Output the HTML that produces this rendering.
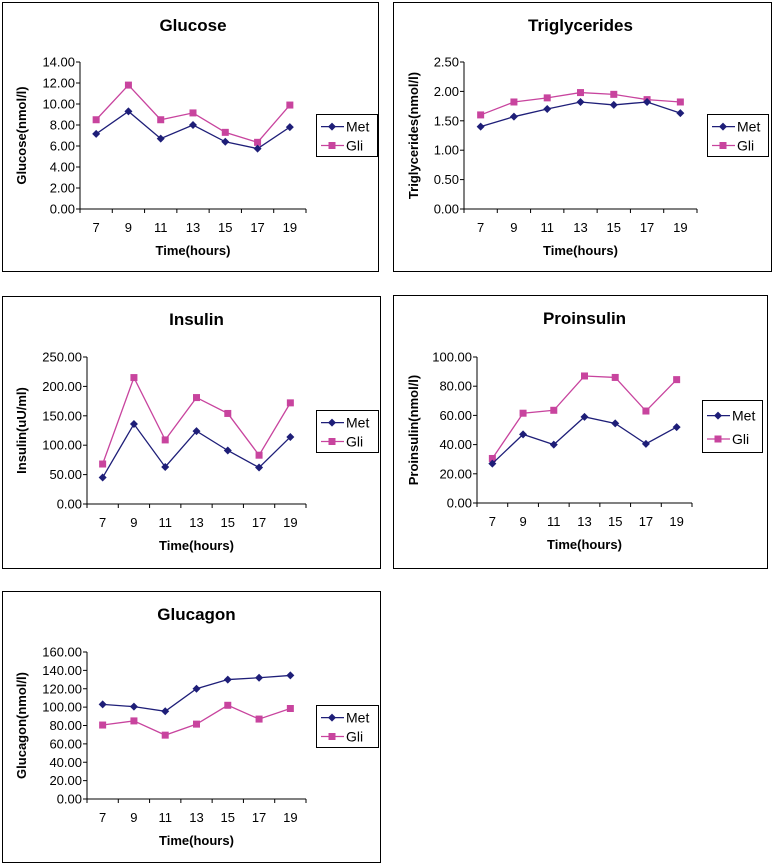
<!DOCTYPE html>
<html><head><meta charset="utf-8"><style>
body{margin:0;background:#fff;width:774px;height:865px;overflow:hidden}
svg{position:absolute;left:0;top:0}
text{font-family:"Liberation Sans",Arial,sans-serif;fill:#000}
</style></head><body>
<svg id="s" width="774" height="865"></svg>
<script>
const categories=[7,9,11,13,15,17,19];
const glucoseMet=[7.15,9.3,6.7,8.0,6.4,5.75,7.8];
const glucoseGli=[8.5,11.8,8.5,9.15,7.3,6.35,9.9];
const trigMet=[1.40,1.57,1.70,1.82,1.77,1.82,1.63];
const trigGli=[1.60,1.82,1.89,1.98,1.95,1.86,1.82];
const insulinMet=[45,136,63,124,91,62,114];
const insulinGli=[68,215,109,181,154,83,172];
const proinsMet=[27,47,40,59,54.5,40.5,52];
const proinsGli=[30.5,61.5,63.5,87,86,63,84.5];
const glucagonMet=[103,100.5,95.5,120,130,132,134.5];
const glucagonGli=[80.5,85,69.5,81.5,102,87,98.5];
const glucoseTicks=[0,2,4,6,8,10,12,14];
const trigTicks=[0,0.5,1,1.5,2,2.5];
const insulinTicks=[0,50,100,150,200,250];
const proinsTicks=[0,20,40,60,80,100];
const glucagonTicks=[0,20,40,60,80,100,120,140,160];
const charts=[
 {name:'glucose',title:'Glucose',ylab:'Glucose(nmol/l)',met:glucoseMet,gli:glucoseGli,ticks:glucoseTicks,box:[2,2,376,269],ax:80,top:62,bot:209,right:306,leg:[316,114,61,42],yt:26},
 {name:'triglycerides',title:'Triglycerides',ylab:'Triglycerides(nmol/l)',met:trigMet,gli:trigGli,ticks:trigTicks,box:[393,2,378,269],ax:464,top:62,bot:209,right:697,leg:[707,114,61,42],yt:418},
 {name:'insulin',title:'Insulin',ylab:'Insulin(uU/ml)',met:insulinMet,gli:insulinGli,ticks:insulinTicks,box:[2,296,378,272],ax:87,top:357,bot:504,right:306,leg:[316,410,62,42],yt:26},
 {name:'proinsulin',title:'Proinsulin',ylab:'Proinsulin(nmol/l)',met:proinsMet,gli:proinsGli,ticks:proinsTicks,box:[393,295,374,273],ax:477,top:357,bot:503,right:692,leg:[702,400,60,52],yt:418},
 {name:'glucagon',title:'Glucagon',ylab:'Glucagon(nmol/l)',met:glucagonMet,gli:glucagonGli,ticks:glucagonTicks,box:[2,591,378,271],ax:87,top:652,bot:799,right:306,leg:[316,705,62,42],yt:26}
];
const NS='http://www.w3.org/2000/svg';
const svg=document.getElementById('s');
function mk(tag,attrs,parent,txt){const e=document.createElementNS(NS,tag);for(const k in attrs)e.setAttribute(k,attrs[k]);if(txt!==undefined)e.textContent=txt;parent.appendChild(e);return e;}
const MET='#1e1e78',GLI='#c8449e';
function marker(g,kind,x,y,col){
 if(kind==='d'){const p=mk('polygon',{points:`${x},${y-4} ${x+4},${y} ${x},${y+4} ${x-4},${y}`,fill:col},g);}
 else{const r=mk('rect',{x:x-3.5,y:y-3.5,width:7,height:7,fill:col},g);}
}
charts.forEach(c=>{
 const g=mk('g',{},svg);
 
 
 const b=c.box;
 mk('rect',{x:b[0]+.5,y:b[1]+.5,width:b[2],height:b[3],fill:'#fff',stroke:'#000','stroke-width':1},g);
 const t=mk('text',{x:(c.ax+c.right)/2,y:b[1]+29,'font-size':17,'font-weight':'bold','text-anchor':'middle'},g,c.title);
 
 const maxV=c.ticks[c.ticks.length-1];
 const ys=v=>c.bot-(v/maxV)*(c.bot-c.top);
 const step=(c.right-c.ax)/categories.length;
 const xs=i=>c.ax+step*(i+0.5);
 mk('line',{x1:c.ax,y1:c.top,x2:c.ax,y2:c.bot,stroke:'#000'},g);
 mk('line',{x1:c.ax,y1:c.bot,x2:c.right,y2:c.bot,stroke:'#000'},g);
 c.ticks.forEach(v=>{
  const y=ys(v);
  mk('line',{x1:c.ax-4,y1:y,x2:c.ax,y2:y,stroke:'#000'},g);
  const tl=mk('text',{x:c.ax-5,y:y+4.5,'font-size':13,'text-anchor':'end'},g,v.toFixed(2));
  
 });
 for(let i=0;i<=categories.length;i++){const x=c.ax+step*i;mk('line',{x1:x,y1:c.bot,x2:x,y2:c.bot+4,stroke:'#000'},g);}
 categories.forEach((v,i)=>{
  const tl=mk('text',{x:xs(i),y:c.bot+23,'font-size':13,'text-anchor':'middle'},g,v);
  
 });
 const xt=mk('text',{x:(c.ax+c.right)/2,y:c.bot+46,'font-size':13,'font-weight':'bold','text-anchor':'middle'},g,'Time(hours)');
 
 const ym=(c.top+c.bot)/2;
 const yt=mk('text',{x:0,y:0,'font-size':13,'font-weight':'bold','text-anchor':'middle',transform:`translate(${c.yt},${ym}) rotate(-90)`},g,c.ylab);
 
 [[c.gli,GLI,'s','gli'],[c.met,MET,'d','met']].forEach(([d,col,k,n])=>{
  const pl=mk('polyline',{points:d.map((v,i)=>xs(i)+','+ys(v)).join(' '),fill:'none',stroke:col,'stroke-width':1.3},g);
  
  d.forEach((v,i)=>marker(g,k,xs(i),ys(v),col));
 });
 const L=c.leg;
 const lg=mk('g',{},g);
 
 mk('rect',{x:L[0]+.5,y:L[1]+.5,width:L[2],height:L[3],fill:'#fff',stroke:'#000'},lg);
 const y1=L[1]+L[3]*0.3,y2=L[1]+L[3]*0.75;
 mk('line',{x1:L[0]+5,y1:y1,x2:L[0]+28,y2:y1,stroke:MET,'stroke-width':1.3},lg);
 marker(lg,'d',L[0]+16,y1,MET);
 mk('text',{x:L[0]+30,y:y1+5,'font-size':14},lg,'Met');
 mk('line',{x1:L[0]+5,y1:y2,x2:L[0]+28,y2:y2,stroke:GLI,'stroke-width':1.3},lg);
 marker(lg,'s',L[0]+16,y2,GLI);
 mk('text',{x:L[0]+30,y:y2+5,'font-size':14},lg,'Gli');
});
</script>
</body></html>
